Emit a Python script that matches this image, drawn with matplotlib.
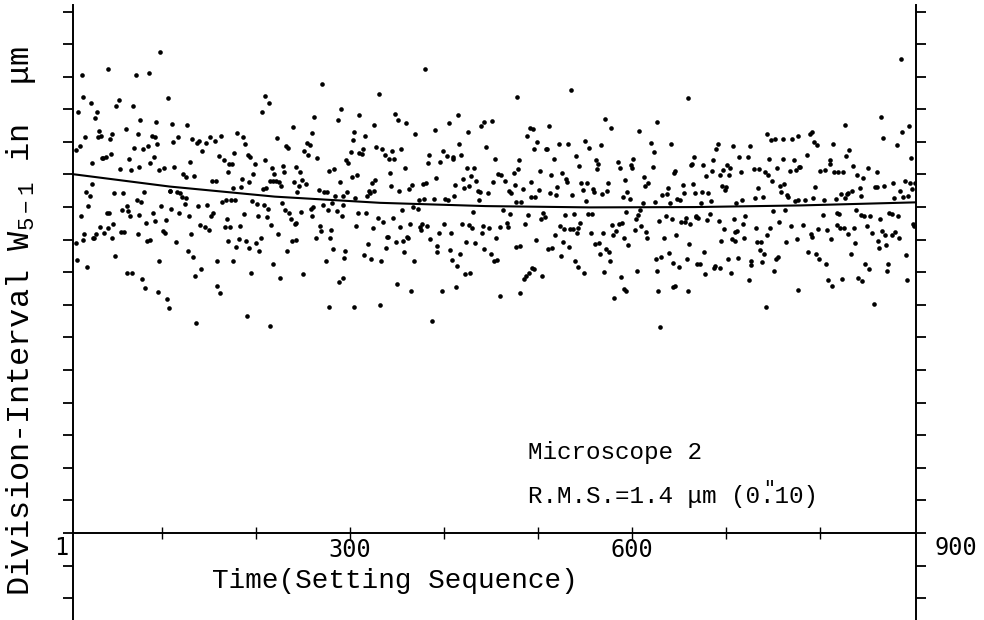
import matplotlib
matplotlib.use("Agg")
import matplotlib.pyplot as plt
import numpy as np

plt.rcParams['font.family'] = ['Liberation Mono', 'DejaVu Sans Mono', 'DejaVu Sans']
plt.rcParams['mathtext.default'] = 'regular'

# ---- data: setting sequence number and division-interval residual (um) ----
seq = [98,43,15,72,86,16,54,24,51,69,106,11,31,29,77,94,62,33,35,32,18,47,45,74,89,93,95,13,8,70,80,85,46,37,40,36,65,91,26,87,55,67,75,97,102,25,19,23,49,59,81,108,73,78,21,99,63,57,64,41,44,14,66,76,90,104,92,83,48,34,42,17,30,38,56,60,74,101,103,27,28,16,47,9,84,87,50,10,97,20,63,68,79,82,96,105,107,
       209,214,206,111,127,112,117,132,137,139,147,151,156,163,180,186,188,142,161,177,191,194,166,171,174,210,199,113,130,122,125,134,170,185,197,217,219,153,157,192,215,218,176,184,211,207,109,116,119,121,126,124,138,148,164,168,173,178,196,201,208,213,110,118,129,154,152,187,202,212,169,140,146,150,167,172,183,216,131,115,170,182,189,200,205,179,193,203,128,133,159,175,218,141,135,195,158,162,136,190,215,
       270,331,290,262,287,309,326,239,222,260,316,304,303,232,234,254,257,251,255,265,328,301,310,313,314,296,298,229,242,230,247,278,283,302,307,221,224,240,249,246,253,289,327,323,227,244,267,272,275,297,320,321,318,325,284,293,305,228,231,235,237,241,243,248,258,261,271,277,281,286,291,292,259,308,317,330,223,268,269,280,306,324,264,279,238,242,233,282,295,294,319,315,322,274,225,250,288,293,278,304,332,
       380,348,351,360,415,405,390,369,425,439,443,334,345,354,337,341,347,416,384,399,403,409,410,418,383,396,358,424,432,343,391,429,420,434,344,352,363,366,378,381,412,421,427,436,438,373,379,389,401,404,411,437,355,367,372,335,346,353,364,374,376,375,382,400,419,426,430,431,441,440,339,340,349,356,361,362,385,395,407,423,433,338,357,392,393,406,417,442,333,368,408,414,422,428,350,365,398,413,387,
       535,478,451,491,495,512,488,445,499,496,508,510,522,532,550,554,454,480,517,540,544,479,474,457,461,502,514,525,530,531,465,475,452,492,520,546,552,447,469,471,484,501,493,497,513,519,536,548,551,476,482,463,470,489,503,507,505,529,538,553,448,460,467,468,486,523,528,534,537,543,545,541,455,518,526,450,477,481,498,511,515,533,524,453,456,539,542,549,494,496,490,485,487,504,459,481,
       660,571,578,627,607,567,620,641,623,562,564,563,585,587,599,600,601,622,663,664,645,646,666,613,592,574,614,617,654,665,558,559,568,573,590,595,598,632,637,638,648,651,655,667,612,624,640,557,593,608,579,586,589,604,606,629,636,642,652,656,657,662,668,603,610,615,616,583,580,556,569,591,596,561,565,647,634,661,572,575,566,576,639,625,631,644,650,658,570,605,626,588,591,594,643,646,628,659,581,630,
       743,748,752,760,770,777,691,689,707,725,686,714,723,746,761,772,675,679,685,694,697,701,703,704,716,730,735,741,745,754,768,774,778,749,696,700,699,734,757,762,765,766,758,674,681,684,673,717,711,731,739,773,668,670,680,683,692,708,718,720,750,763,756,769,698,710,712,706,709,719,732,747,744,733,737,764,775,695,677,736,740,753,755,669,672,687,688,693,702,713,726,727,738,678,705,724,751,776,742,
       886,865,826,789,791,867,887,895,794,797,814,831,882,786,828,897,779,811,810,800,805,815,819,824,835,839,846,851,860,795,842,858,861,868,878,890,896,901,822,829,830,834,817,827,844,879,885,888,893,898,777,784,792,804,838,843,847,853,818,820,803,873,876,883,864,899,900,782,790,791,798,807,818,821,825,830,836,850,855,866,869,877,880,884,812,837,862,870,863,787,796,799,806,833,891,848,852,872,871,808,813,823,840,845,892,857]

w = [4.76,4.25,4.06,4.04,4.10,3.37,3.30,3.18,3.09,3.11,3.34,2.91,2.93,2.73,2.68,2.60,2.41,2.34,2.17,2.14,2.16,2.25,2.08,2.25,2.19,2.15,1.94,1.88,1.76,1.80,1.78,1.88,1.63,1.52,1.55,1.50,1.49,1.53,1.34,1.36,1.18,1.14,1.22,1.14,1.20,0.71,0.46,0.34,0.42,0.44,0.47,0.49,0.21,0.15,0.03,0.03,0.03,-0.08,-0.12,-0.17,-0.19,-0.27,-0.28,-0.24,-0.18,-0.41,-0.43,-0.49,-0.51,-0.61,-0.63,-0.84,-0.84,-0.79,-0.78,-0.76,-0.82,-0.73,-0.80,-0.96,-0.94,-1.00,-0.96,-1.11,-1.04,-1.02,-1.50,-1.62,-1.66,-1.83,-2.03,-2.03,-2.21,-2.49,-2.60,-2.83,-3.10,
     3.42,3.18,2.91,2.55,2.53,2.01,2.15,2.09,1.98,2.02,1.96,2.15,2.02,2.17,2.27,2.15,1.92,1.71,1.57,1.65,1.60,1.53,1.43,1.32,1.32,1.43,1.32,1.22,1.37,1.01,0.91,0.95,1.08,0.87,1.01,1.20,1.01,0.81,0.81,0.77,0.81,0.81,0.60,0.62,0.60,0.54,0.50,0.46,0.42,0.31,0.29,0.09,0.03,0.07,0.17,0.23,0.23,0.23,0.19,0.09,0.07,-0.06,-0.06,-0.18,-0.28,-0.18,-0.26,-0.20,-0.26,-0.30,-0.36,-0.55,-0.61,-0.69,-0.61,-0.61,-0.59,-0.55,-0.82,-1.08,-1.04,-0.98,-1.04,-1.11,-0.94,-1.23,-1.27,-1.35,-1.35,-1.54,-1.64,-1.66,-1.74,-1.89,-2.11,-2.01,-2.41,-2.63,-3.55,-3.34,-3.64,
     3.77,3.48,3.02,2.76,2.66,2.81,2.53,2.47,2.12,2.27,2.19,2.29,2.06,1.86,1.82,1.96,1.90,1.71,1.61,1.52,1.84,1.68,1.67,1.63,1.78,1.43,1.34,1.26,1.22,1.08,1.07,1.12,1.16,0.93,0.97,0.80,0.78,0.77,0.83,0.66,0.71,0.78,0.83,0.73,0.64,0.46,0.52,0.45,0.45,0.45,0.48,0.43,0.34,0.49,0.34,0.34,0.29,0.14,-0.08,-0.18,-0.36,-0.51,-0.48,-0.14,-0.06,0.01,0.07,-0.10,0.13,-0.12,-0.26,0.07,-0.28,-0.17,-0.18,-0.35,-0.83,-0.57,-0.74,-0.69,-0.57,-0.63,-0.94,-0.96,-1.04,-1.00,-1.35,-1.30,-1.35,-1.55,-1.13,-1.47,-1.58,-1.65,-2.19,-2.05,-2.31,-2.17,-3.06,-3.06,-3.00,
     4.25,2.85,2.66,2.57,2.81,2.57,2.36,2.24,2.29,2.48,2.60,1.78,1.71,1.78,1.59,1.49,1.47,1.92,1.60,1.71,1.57,1.53,1.49,1.61,1.34,1.37,1.20,1.19,1.21,1.03,0.89,0.96,0.87,0.81,0.66,0.48,0.55,0.68,0.71,0.73,0.68,0.57,0.65,0.49,0.46,0.21,0.24,0.26,0.26,0.21,0.34,0.21,-0.10,-0.01,-0.05,-0.47,-0.35,-0.62,-0.53,-0.61,-0.53,-0.71,-0.57,-0.52,-0.53,-0.55,-0.63,-0.14,-0.59,-0.79,-0.92,-0.92,-1.06,-1.04,-0.92,-0.96,-0.98,-0.80,-0.80,-1.08,-1.11,-1.26,-1.39,-1.18,-1.37,-1.33,-1.43,-1.28,-1.65,-1.66,-1.62,-1.81,-2.04,-2.03,-2.35,-2.56,-2.56,-2.45,-3.51,
     3.58,3.37,2.64,2.43,2.40,2.50,2.19,1.84,1.99,1.79,1.79,1.78,1.92,1.94,2.02,1.80,1.47,1.45,1.48,1.57,1.25,1.16,1.06,1.01,0.97,1.11,0.97,1.04,0.85,0.77,0.81,0.69,0.76,0.76,0.62,0.74,0.74,0.43,0.50,0.44,0.54,0.52,0.31,0.30,0.44,0.37,0.37,0.52,0.19,0.17,0.16,-0.10,-0.22,-0.24,-0.36,-0.32,-0.18,-0.23,-0.20,-0.20,-0.63,-0.61,-0.48,-0.61,-0.51,-0.59,-0.68,-0.66,-0.67,-0.65,-0.48,-0.80,-0.96,-0.86,-1.06,-1.43,-1.23,-1.19,-1.02,-1.30,-1.27,-1.22,-1.51,-1.66,-1.62,-1.66,-1.85,-2.01,-1.87,-1.89,-2.01,-2.21,-2.13,-2.13,-2.73,-2.65,
     3.35,2.70,2.42,2.60,2.33,1.90,1.98,1.93,1.69,1.45,1.31,1.16,1.39,1.20,1.30,1.20,1.47,1.24,1.28,1.32,1.06,1.10,1.55,0.93,0.83,0.75,0.66,0.75,0.68,0.70,0.54,0.47,0.40,0.48,0.31,0.47,0.26,0.38,0.40,0.59,0.26,0.23,0.44,0.44,0.13,0.17,0.14,-0.22,-0.15,-0.10,-0.54,-0.53,-0.49,-0.37,-0.23,-0.43,-0.26,-0.37,-0.47,-0.47,-0.35,-0.53,-0.26,-0.71,-0.59,-0.77,-0.94,-0.74,-0.87,-0.79,-0.80,-0.94,-1.17,-1.13,-1.11,-0.87,-0.94,-1.13,-1.28,-1.38,-1.43,-1.64,-1.40,-1.58,-1.54,-1.71,-1.85,-1.60,-2.00,-1.97,-1.95,-2.15,-2.50,-2.57,-2.46,-2.42,-2.57,-2.59,-2.80,-3.68,
     2.25,2.06,2.08,2.08,2.08,2.17,1.95,1.78,1.87,1.86,1.45,1.53,1.55,1.48,1.47,1.43,1.29,0.96,1.10,0.98,1.14,1.29,0.97,1.19,1.09,1.18,1.18,1.09,0.98,1.20,1.12,1.13,1.22,0.81,0.64,0.62,0.51,0.59,0.64,0.71,0.36,0.31,0.45,0.47,0.43,0.18,0.13,0.23,0.11,0.28,0.31,0.20,-0.30,-0.35,-0.41,-0.20,-0.43,-0.36,-0.51,-0.27,-0.13,-0.10,-0.46,-0.59,-0.66,-0.77,-0.73,-0.99,-1.03,-0.94,-0.63,-0.63,-0.86,-1.07,-1.06,-1.08,-0.98,-1.04,-1.39,-1.33,-1.44,-1.60,-1.54,-1.76,-1.76,-1.87,-1.80,-1.88,-1.59,-1.55,-1.66,-1.77,-1.69,-2.05,-2.02,-2.24,-1.97,-2.54,-3.08,
     4.53,2.76,2.51,2.25,2.29,2.11,2.31,2.48,2.00,1.91,1.95,1.76,1.90,1.61,1.58,1.52,1.24,1.45,1.31,1.10,1.14,1.09,1.07,1.09,1.27,0.97,0.89,1.20,1.09,0.62,0.58,0.63,0.63,0.66,0.75,0.79,0.73,0.75,0.41,0.40,0.44,0.48,0.26,0.27,0.35,0.29,0.48,0.31,0.34,0.54,0.22,0.22,0.28,0.21,-0.08,-0.25,-0.26,-0.27,-0.17,-0.20,-0.23,-0.17,-0.22,-0.27,-0.38,-0.53,-0.57,-0.56,-0.82,-0.92,-0.68,-0.71,-0.56,-0.63,-0.63,-0.83,-0.64,-0.59,-0.81,-0.74,-0.85,-0.85,-0.77,-0.94,-0.97,-1.11,-1.05,-1.16,-1.26,-1.39,-1.43,-1.58,-1.74,-1.45,-1.47,-1.76,-1.91,-1.76,-1.97,-2.24,-2.41,-2.20,-2.17,-2.28,-2.24,-2.96]

# fitted trend curve
fit_seq = [5, 108, 220, 332, 444, 555, 667, 779, 902]
fit_w = [1.01, 0.63, 0.32, 0.13, 0.03, -0.01, 0.00, 0.05, 0.145]

xtick_vals = [100, 200, 300, 400, 500, 600, 700, 800]
xtick_text = ["", "", "300", "", "", "600", "", ""]
ytick_vals = list(range(-12, 7))

# ---- figure ----
W, H = 984, 620
fig = plt.figure(figsize=(W / 100, H / 100), dpi=100)
ax = fig.add_axes([73 / W, 0.0, (916 - 73) / W, 1 - 5 / H])
ax.set_xlim(5.3, 902)
ax.set_ylim(-12.67, 6.2)

ax.scatter(seq, w, s=11, color='black', linewidths=0, zorder=3)
ax.plot(fit_seq, fit_w, color='black', lw=1.5, zorder=2)

for side in ['left', 'right', 'bottom']:
    ax.spines[side].set_linewidth(1.4)
ax.spines['top'].set_visible(False)
ax.spines['bottom'].set_position(('data', -10))

ax.set_yticks(ytick_vals)
ax.tick_params(axis='y', which='both', left=True, right=True, labelleft=False,
               labelright=False, direction='out', length=7, width=1.3)
ax.set_xticks(xtick_vals)
ax.set_xticklabels(xtick_text, fontsize=17, family='DejaVu Sans Mono')
ax.tick_params(axis='x', direction='inout', length=8, width=1.0, pad=-0.5)

def fx(px):
    return px / W

def fy(py):
    return 1 - py / H

fig.text(fx(61), fy(548), "1", fontsize=17, family='DejaVu Sans Mono', ha='center', va='center')
fig.text(fx(956), fy(548), "900", fontsize=17, family='DejaVu Sans Mono', ha='center', va='center')
fig.text(fx(395), fy(581), "Time(Setting Sequence)", fontsize=20, ha='center', va='center')
fig.text(fx(21), fy(321), "Division-Interval W$_{5-1}$ in  μm", fontsize=23,
         rotation=90, ha='center', va='center')

fs = 17.5
fig.text(fx(528), fy(452), "Microscope 2", fontsize=fs, ha='left', va='center')
fig.text(fx(528), fy(497), "R.M.S.=1.4 μm (0.10)", fontsize=fs, ha='left', va='center')
charw = 0.6 * fs * 100 / 72
fig.text(fx(528 + 16.5 * charw), fy(488), '"', fontsize=fs * 0.8, ha='center', va='center')

fig.savefig("out.png", dpi=100)
